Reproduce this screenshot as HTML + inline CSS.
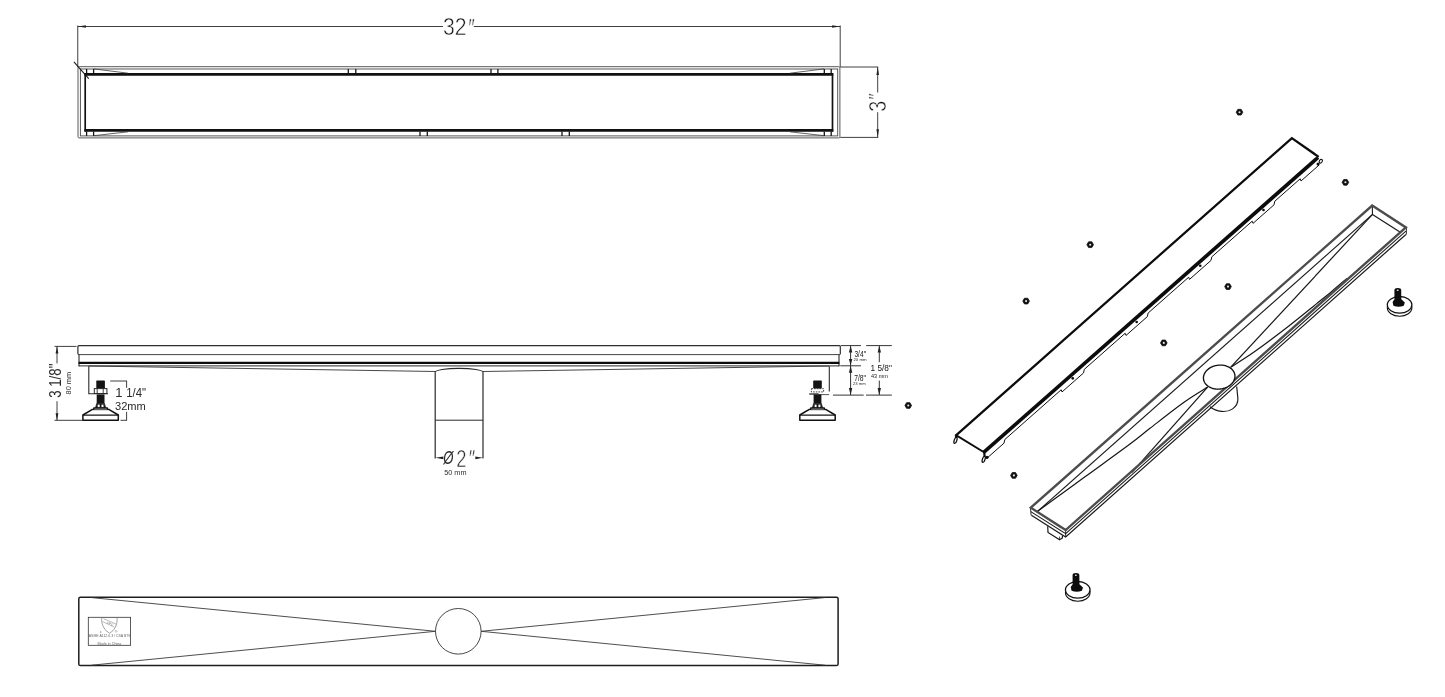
<!DOCTYPE html>
<html><head><meta charset="utf-8"><title>Linear shower drain drawing</title>
<style>
html,body{margin:0;padding:0;background:#fff;}
body{width:1445px;height:697px;overflow:hidden;font-family:"Liberation Sans",sans-serif;}
svg{display:block;font-family:"Liberation Sans",sans-serif;}
</style></head><body>
<svg width="1445" height="697" viewBox="0 0 1445 697" stroke-linecap="butt">
<rect x="0" y="0" width="1445" height="697" fill="#ffffff"/>
<g opacity="0.999">
<line x1="77.75" y1="25.50" x2="77.75" y2="67.00" stroke="#2a2a2a" stroke-width="0.9" />
<line x1="840.20" y1="25.50" x2="840.20" y2="67.00" stroke="#2a2a2a" stroke-width="0.9" />
<line x1="77.75" y1="26.50" x2="443.00" y2="26.50" stroke="#2a2a2a" stroke-width="0.9" />
<line x1="473.80" y1="26.50" x2="840.20" y2="26.50" stroke="#2a2a2a" stroke-width="0.9" />
<polygon points="77.90,26.50 85.90,25.20 85.90,27.80" fill="#222"/>
<polygon points="840.10,26.50 832.10,27.80 832.10,25.20" fill="#222"/>
<text x="443.00" y="35.20" font-size="23" text-anchor="start" fill="#1c1c1c" stroke="#fff" stroke-width="0.46" textLength="23.6" lengthAdjust="spacingAndGlyphs" >32</text>
<text x="467.60" y="36.60" font-size="26" text-anchor="start" fill="#1c1c1c" stroke="#fff" stroke-width="0.52" textLength="6.4" lengthAdjust="spacingAndGlyphs" font-style="italic">″</text>
<rect x="78.0" y="66.7" width="761.90" height="71.20" rx="1.2" fill="none" stroke="#4e4e4e" stroke-width="0.95"/>
<rect x="80.4" y="69.0" width="757.30" height="66.90" fill="none" stroke="#4e4e4e" stroke-width="0.95"/>
<line x1="84.40" y1="74.40" x2="833.30" y2="74.40" stroke="#111" stroke-width="2.6" />
<line x1="84.40" y1="130.40" x2="833.30" y2="130.40" stroke="#111" stroke-width="2.6" />
<line x1="85.20" y1="73.20" x2="85.20" y2="131.60" stroke="#111" stroke-width="1.7" />
<line x1="832.50" y1="73.20" x2="832.50" y2="131.60" stroke="#111" stroke-width="1.7" />
<line x1="86.60" y1="68.90" x2="86.60" y2="73.40" stroke="#151515" stroke-width="1.3" />
<line x1="93.60" y1="68.90" x2="93.60" y2="73.40" stroke="#151515" stroke-width="1.3" />
<line x1="348.30" y1="68.90" x2="348.30" y2="73.40" stroke="#151515" stroke-width="1.3" />
<line x1="355.80" y1="68.90" x2="355.80" y2="73.40" stroke="#151515" stroke-width="1.3" />
<line x1="491.00" y1="68.90" x2="491.00" y2="73.40" stroke="#151515" stroke-width="1.3" />
<line x1="497.90" y1="68.90" x2="497.90" y2="73.40" stroke="#151515" stroke-width="1.3" />
<line x1="824.30" y1="68.90" x2="824.30" y2="73.40" stroke="#151515" stroke-width="1.3" />
<line x1="831.20" y1="68.90" x2="831.20" y2="73.40" stroke="#151515" stroke-width="1.3" />
<line x1="86.60" y1="131.40" x2="86.60" y2="135.90" stroke="#151515" stroke-width="1.3" />
<line x1="93.60" y1="131.40" x2="93.60" y2="135.90" stroke="#151515" stroke-width="1.3" />
<line x1="420.00" y1="131.40" x2="420.00" y2="135.90" stroke="#151515" stroke-width="1.3" />
<line x1="427.30" y1="131.40" x2="427.30" y2="135.90" stroke="#151515" stroke-width="1.3" />
<line x1="562.00" y1="131.40" x2="562.00" y2="135.90" stroke="#151515" stroke-width="1.3" />
<line x1="569.30" y1="131.40" x2="569.30" y2="135.90" stroke="#151515" stroke-width="1.3" />
<line x1="824.30" y1="131.40" x2="824.30" y2="135.90" stroke="#151515" stroke-width="1.3" />
<line x1="831.20" y1="131.40" x2="831.20" y2="135.90" stroke="#151515" stroke-width="1.3" />
<line x1="93.90" y1="68.90" x2="128.00" y2="73.20" stroke="#3a3a3a" stroke-width="0.8" />
<line x1="93.90" y1="135.70" x2="128.00" y2="131.80" stroke="#3a3a3a" stroke-width="0.8" />
<line x1="824.00" y1="68.90" x2="790.00" y2="73.20" stroke="#3a3a3a" stroke-width="0.8" />
<line x1="824.00" y1="135.70" x2="790.00" y2="131.80" stroke="#3a3a3a" stroke-width="0.8" />
<line x1="73.90" y1="61.80" x2="88.70" y2="78.60" stroke="#1a1a1a" stroke-width="1.05" />
<line x1="840.20" y1="67.00" x2="878.20" y2="67.00" stroke="#2a2a2a" stroke-width="0.9" />
<line x1="840.20" y1="137.40" x2="878.20" y2="137.40" stroke="#2a2a2a" stroke-width="0.9" />
<line x1="877.70" y1="67.00" x2="877.70" y2="92.50" stroke="#2a2a2a" stroke-width="0.9" />
<line x1="877.70" y1="112.20" x2="877.70" y2="137.40" stroke="#2a2a2a" stroke-width="0.9" />
<polygon points="877.70,67.10 879.00,75.10 876.40,75.10" fill="#222"/>
<polygon points="877.70,137.30 876.40,129.30 879.00,129.30" fill="#222"/>
<text x="885.80" y="111.80" font-size="23" text-anchor="start" fill="#1c1c1c" stroke="#fff" stroke-width="0.46" transform="rotate(-90 885.80 111.80)" textLength="11" lengthAdjust="spacingAndGlyphs" >3</text>
<text x="881.90" y="100.80" font-size="19" text-anchor="start" fill="#1c1c1c" stroke="#fff" stroke-width="0.38" transform="rotate(-90 881.90 100.80)" font-style="italic">″</text>
<path d="M840.3,354.3 L840.3,346.6 Q840.3,345.6 839.3,345.6 L78.9,345.6 Q77.9,345.6 77.9,346.6 L77.9,354.3" stroke="#2e2e2e" stroke-width="1.2" fill="none" />
<line x1="77.90" y1="354.60" x2="840.30" y2="354.60" stroke="#444" stroke-width="1.0" />
<line x1="79.00" y1="354.60" x2="79.00" y2="366.30" stroke="#2a2a2a" stroke-width="1.1" />
<line x1="839.00" y1="354.60" x2="839.00" y2="366.30" stroke="#2a2a2a" stroke-width="1.1" />
<line x1="78.60" y1="362.80" x2="839.40" y2="362.80" stroke="#0c0c0c" stroke-width="2.2" />
<line x1="78.60" y1="365.90" x2="839.40" y2="365.90" stroke="#2a2a2a" stroke-width="1.0" />
<line x1="88.50" y1="366.00" x2="435.20" y2="371.50" stroke="#333" stroke-width="0.9" />
<line x1="829.00" y1="366.00" x2="483.00" y2="371.50" stroke="#333" stroke-width="0.9" />
<path d="M435.2,458.4 L435.2,372.2 A23.9,3.8 0 0 1 483.0,372.2 L483.0,458.4" stroke="#2a2a2a" stroke-width="1.2" fill="none" />
<line x1="435.20" y1="420.20" x2="483.00" y2="420.20" stroke="#2a2a2a" stroke-width="1.0" />
<polygon points="435.20,457.80 443.40,456.45 443.40,459.15" fill="#222"/>
<polygon points="482.90,457.80 475.30,459.15 475.30,456.45" fill="#222"/>
<text x="443.20" y="464.20" font-size="17.5" text-anchor="start" fill="#2a2a2a" textLength="10.2" lengthAdjust="spacingAndGlyphs" font-style="italic">Ø</text>
<text x="456.20" y="466.50" font-size="24" text-anchor="start" fill="#2a2a2a" stroke="#fff" stroke-width="0.48" textLength="10.2" lengthAdjust="spacingAndGlyphs" >2</text>
<text x="468.00" y="466.60" font-size="24" text-anchor="start" fill="#2a2a2a" stroke="#fff" stroke-width="0.48" textLength="6.4" lengthAdjust="spacingAndGlyphs" font-style="italic">″</text>
<text x="455.35" y="474.60" font-size="7.2" text-anchor="middle" fill="#2a2a2a" textLength="22.3" lengthAdjust="spacingAndGlyphs" >50 mm</text>
<path d="M88.80,366.3 L88.80,393.8 L108.00,393.8" stroke="#2a2a2a" stroke-width="1.1" fill="none" />
<rect x="96.30" y="380.4" width="8.6" height="8.4" rx="0.8" fill="#141414"/>
<rect x="96.70" y="394.4" width="7.8" height="9.3" fill="#141414"/>
<rect x="94.30" y="388.6" width="12.6" height="4.9" fill="#fff" stroke="#2a2a2a" stroke-width="1.0"/>
<line x1="97.20" y1="388.60" x2="97.20" y2="393.50" stroke="#2a2a2a" stroke-width="0.9" />
<line x1="103.20" y1="388.60" x2="103.20" y2="393.50" stroke="#2a2a2a" stroke-width="0.9" />
<path d="M96.70,403.6 L95.60,407.8 L105.60,407.8 L104.50,403.6 Z" stroke="#2a2a2a" stroke-width="0.9" fill="#141414" />
<rect x="97.70" y="404.6" width="2.0" height="2.8" fill="#fff"/>
<rect x="101.50" y="404.6" width="2.0" height="2.8" fill="#fff"/>
<path d="M93.90,407.9 L107.30,407.9 L107.50,409.3 L109.20,409.6 L118.30,415.0 L118.30,420.3 L82.90,420.3 L82.90,415.0 L92.00,409.6 L93.70,409.3 Z" stroke="#111" stroke-width="1.5" fill="#fff" stroke-linejoin="round"/>
<line x1="82.90" y1="415.20" x2="118.30" y2="415.20" stroke="#151515" stroke-width="1.2" />
<line x1="93.40" y1="409.70" x2="107.80" y2="409.70" stroke="#2a2a2a" stroke-width="0.9" />
<line x1="829.30" y1="366.30" x2="829.30" y2="391.40" stroke="#2a2a2a" stroke-width="1.1" />
<line x1="809.20" y1="394.00" x2="818.70" y2="394.00" stroke="#151515" stroke-width="1.2" />
<line x1="818.70" y1="394.60" x2="829.10" y2="394.60" stroke="#444" stroke-width="0.9" />
<rect x="813.20" y="380.4" width="8.6" height="8.4" rx="0.8" fill="#141414"/>
<rect x="813.60" y="394.4" width="7.8" height="9.3" fill="#141414"/>
<rect x="811.40" y="388.7" width="12.2" height="3.2" fill="#fff" stroke="#2a2a2a" stroke-width="0.9" stroke-dasharray="1.6 1.1"/>
<path d="M813.60,403.6 L812.50,407.8 L822.50,407.8 L821.40,403.6 Z" stroke="#2a2a2a" stroke-width="0.9" fill="#141414" />
<rect x="814.60" y="404.6" width="2.0" height="2.8" fill="#fff"/>
<rect x="818.40" y="404.6" width="2.0" height="2.8" fill="#fff"/>
<path d="M810.80,407.9 L824.20,407.9 L824.40,409.3 L826.10,409.6 L835.20,415.0 L835.20,420.3 L799.80,420.3 L799.80,415.0 L808.90,409.6 L810.60,409.3 Z" stroke="#111" stroke-width="1.5" fill="#fff" stroke-linejoin="round"/>
<line x1="799.80" y1="415.20" x2="835.20" y2="415.20" stroke="#151515" stroke-width="1.2" />
<line x1="810.30" y1="409.70" x2="824.70" y2="409.70" stroke="#2a2a2a" stroke-width="0.9" />
<line x1="54.50" y1="346.40" x2="76.50" y2="346.40" stroke="#2a2a2a" stroke-width="0.9" />
<line x1="54.50" y1="420.30" x2="83.00" y2="420.30" stroke="#2a2a2a" stroke-width="0.9" />
<line x1="57.00" y1="346.40" x2="57.00" y2="363.40" stroke="#2a2a2a" stroke-width="0.9" />
<line x1="57.00" y1="401.20" x2="57.00" y2="420.30" stroke="#2a2a2a" stroke-width="0.9" />
<polygon points="57.00,346.50 58.40,353.50 55.60,353.50" fill="#222"/>
<polygon points="57.00,420.20 55.60,413.20 58.40,413.20" fill="#222"/>
<text x="61.20" y="397.80" font-size="17.2" text-anchor="start" fill="#2a2a2a" transform="rotate(-90 61.20 397.80)" textLength="34.2" lengthAdjust="spacingAndGlyphs" >3 1/8"</text>
<text x="70.70" y="394.40" font-size="7" text-anchor="start" fill="#333" transform="rotate(-90 70.70 394.40)" textLength="22.5" lengthAdjust="spacingAndGlyphs" >80 mm</text>
<line x1="110.20" y1="381.00" x2="127.00" y2="381.00" stroke="#2a2a2a" stroke-width="0.9" />
<line x1="126.60" y1="381.00" x2="126.60" y2="387.80" stroke="#2a2a2a" stroke-width="0.9" />
<line x1="126.60" y1="411.80" x2="126.60" y2="420.30" stroke="#2a2a2a" stroke-width="0.9" />
<line x1="120.50" y1="420.30" x2="127.00" y2="420.30" stroke="#2a2a2a" stroke-width="0.9" />
<text x="115.20" y="396.50" font-size="13" text-anchor="start" fill="#2a2a2a" >1</text>
<text x="126.20" y="396.50" font-size="12.3" text-anchor="start" fill="#2a2a2a" textLength="19.8" lengthAdjust="spacingAndGlyphs" >1/4"</text>
<text x="115.00" y="409.80" font-size="11" text-anchor="start" fill="#2a2a2a" textLength="30.8" lengthAdjust="spacingAndGlyphs" >32mm</text>
<line x1="840.80" y1="345.60" x2="861.00" y2="345.60" stroke="#2a2a2a" stroke-width="0.95" />
<line x1="866.20" y1="345.60" x2="891.80" y2="345.60" stroke="#2a2a2a" stroke-width="0.95" />
<line x1="840.30" y1="365.80" x2="861.00" y2="365.80" stroke="#2a2a2a" stroke-width="0.95" />
<line x1="833.00" y1="395.10" x2="863.70" y2="395.10" stroke="#2a2a2a" stroke-width="0.95" />
<line x1="866.00" y1="395.10" x2="891.80" y2="395.10" stroke="#2a2a2a" stroke-width="0.95" />
<line x1="850.60" y1="345.70" x2="850.60" y2="395.00" stroke="#2a2a2a" stroke-width="0.95" />
<polygon points="850.60,345.80 852.30,352.60 848.90,352.60" fill="#222"/>
<polygon points="850.60,365.70 848.90,358.90 852.30,358.90" fill="#222"/>
<polygon points="850.60,365.90 852.30,372.70 848.90,372.70" fill="#222"/>
<polygon points="850.60,394.90 848.90,388.10 852.30,388.10" fill="#222"/>
<line x1="879.30" y1="345.70" x2="879.30" y2="362.20" stroke="#2a2a2a" stroke-width="0.95" />
<line x1="879.30" y1="380.60" x2="879.30" y2="395.00" stroke="#2a2a2a" stroke-width="0.95" />
<polygon points="879.30,345.80 881.00,352.60 877.60,352.60" fill="#222"/>
<polygon points="879.30,394.90 877.60,388.10 881.00,388.10" fill="#222"/>
<text x="854.40" y="356.70" font-size="8.4" text-anchor="start" fill="#151515" textLength="11.6" lengthAdjust="spacingAndGlyphs" >3/4"</text>
<text x="853.40" y="361.30" font-size="4.0" text-anchor="start" fill="#2a2a2a" textLength="13.2" lengthAdjust="spacingAndGlyphs" >20 mm</text>
<text x="854.20" y="380.80" font-size="8.4" text-anchor="start" fill="#151515" textLength="11.8" lengthAdjust="spacingAndGlyphs" >7/8"</text>
<text x="853.00" y="385.40" font-size="4.0" text-anchor="start" fill="#2a2a2a" textLength="12.8" lengthAdjust="spacingAndGlyphs" >23 mm</text>
<text x="870.60" y="371.10" font-size="9.5" text-anchor="start" fill="#151515" textLength="21.3" lengthAdjust="spacingAndGlyphs" >1 5/8"</text>
<text x="871.00" y="377.70" font-size="5.4" text-anchor="start" fill="#222" textLength="16.9" lengthAdjust="spacingAndGlyphs" >43 mm</text>
<rect x="78.8" y="597.2" width="759.3" height="68.4" rx="1.6" fill="none" stroke="#1e1e1e" stroke-width="1.5"/>
<circle cx="458.3" cy="631.3" r="22.8" fill="none" stroke="#333" stroke-width="0.9"/>
<line x1="91.50" y1="597.60" x2="435.50" y2="631.30" stroke="#3a3a3a" stroke-width="0.9" />
<line x1="91.50" y1="665.20" x2="435.50" y2="631.30" stroke="#3a3a3a" stroke-width="0.9" />
<line x1="825.00" y1="597.60" x2="481.10" y2="631.30" stroke="#3a3a3a" stroke-width="0.9" />
<line x1="825.00" y1="665.20" x2="481.10" y2="631.30" stroke="#3a3a3a" stroke-width="0.9" />
<rect x="88.3" y="617.3" width="42.3" height="28.0" fill="none" stroke="#333" stroke-width="0.8"/>
<path d="M101.6,618.0 Q101.2,628.5 109.6,633.3 Q117.6,628.5 117.2,618.0" stroke="#666" stroke-width="0.6" fill="none" />
<path d="M103.4,618.6 L116.2,624.2 M102.6,621.6 L114.6,627.2" stroke="#777" stroke-width="0.5" fill="none" />
<text x="109.60" y="624.80" font-size="3.2" text-anchor="middle" fill="#888" transform="rotate(24 109.60 624.80)" >UPC</text>
<text x="100.80" y="633.20" font-size="4.0" text-anchor="middle" fill="#666" >c</text>
<text x="116.10" y="633.20" font-size="3.6" text-anchor="middle" fill="#666" >®</text>
<text x="109.45" y="637.30" font-size="3.0" text-anchor="middle" fill="#666" textLength="41.4" lengthAdjust="spacingAndGlyphs" >ASME A112.6.3 / CSA B79</text>
<text x="109.45" y="644.60" font-size="3.0" text-anchor="middle" fill="#666" textLength="24.0" lengthAdjust="spacingAndGlyphs" >Made in China</text>
<path d="M1319.00,165.10 L1301.00,180.99 L1300.20,178.79 L1274.80,201.21 L1274.00,204.82 L1253.00,223.36 L1252.20,221.16 L1211.80,256.82 L1211.00,260.43 L1189.50,279.41 L1188.70,277.21 L1148.10,313.05 L1147.30,316.66 L1126.00,335.46 L1125.20,333.26 L1084.30,369.37 L1083.50,372.97 L1062.00,391.95 L1061.20,389.76 L1004.80,439.54 L1004.00,443.15 L986.50,458.59" stroke="#111" stroke-width="1.0" fill="none" />
<circle cx="1263.50" cy="209.99" r="1.3" fill="#0c0c0c"/>
<circle cx="1200.25" cy="265.82" r="1.3" fill="#0c0c0c"/>
<circle cx="1136.65" cy="321.96" r="1.3" fill="#0c0c0c"/>
<circle cx="1072.75" cy="378.36" r="1.3" fill="#0c0c0c"/>
<circle cx="1318.1" cy="164.1" r="1.6" fill="#0c0c0c"/>
<circle cx="987.0" cy="457.3" r="1.6" fill="#0c0c0c"/>
<path d="M956.00,435.40 L1291.85,138.10 L1318.70,156.90" stroke="#0c0c0c" stroke-width="2.3" fill="none" stroke-linejoin="miter"/>
<line x1="955.60" y1="434.90" x2="984.00" y2="452.30" stroke="#0c0c0c" stroke-width="1.9" />
<line x1="1318.00" y1="157.50" x2="983.40" y2="452.60" stroke="#0c0c0c" stroke-width="3.6" />
<line x1="955.80" y1="434.60" x2="956.30" y2="438.20" stroke="#0c0c0c" stroke-width="2.2" />
<line x1="984.20" y1="452.00" x2="984.60" y2="456.60" stroke="#0c0c0c" stroke-width="2.2" />
<ellipse cx="955.50" cy="440.40" rx="1.3" ry="3.2" fill="#fff" stroke="#0c0c0c" stroke-width="1.25" transform="rotate(18 955.50 440.40)"/>
<ellipse cx="983.70" cy="459.40" rx="1.3" ry="3.2" fill="#fff" stroke="#0c0c0c" stroke-width="1.25" transform="rotate(18 983.70 459.40)"/>
<ellipse cx="1320.8" cy="161.2" rx="1.4" ry="2.0" fill="#fff" stroke="#0c0c0c" stroke-width="1.1" transform="rotate(35 1320.8 161.2)"/>
<polygon points="1242.80,112.20 1241.15,115.06 1237.85,115.06 1236.20,112.20 1237.85,109.34 1241.15,109.34" fill="#111" stroke="#111" stroke-width="0.8" stroke-linejoin="round"/>
<circle cx="1239.50" cy="112.20" r="1.05" fill="#e8e8e8"/>
<polygon points="1348.70,182.30 1347.05,185.16 1343.75,185.16 1342.10,182.30 1343.75,179.44 1347.05,179.44" fill="#111" stroke="#111" stroke-width="0.8" stroke-linejoin="round"/>
<circle cx="1345.40" cy="182.30" r="1.05" fill="#e8e8e8"/>
<polygon points="1093.50,244.70 1091.85,247.56 1088.55,247.56 1086.90,244.70 1088.55,241.84 1091.85,241.84" fill="#111" stroke="#111" stroke-width="0.8" stroke-linejoin="round"/>
<circle cx="1090.20" cy="244.70" r="1.05" fill="#e8e8e8"/>
<polygon points="1231.30,286.60 1229.65,289.46 1226.35,289.46 1224.70,286.60 1226.35,283.74 1229.65,283.74" fill="#111" stroke="#111" stroke-width="0.8" stroke-linejoin="round"/>
<circle cx="1228.00" cy="286.60" r="1.05" fill="#e8e8e8"/>
<polygon points="1167.10,342.90 1165.45,345.76 1162.15,345.76 1160.50,342.90 1162.15,340.04 1165.45,340.04" fill="#111" stroke="#111" stroke-width="0.8" stroke-linejoin="round"/>
<circle cx="1163.80" cy="342.90" r="1.05" fill="#e8e8e8"/>
<polygon points="1017.20,475.40 1015.55,478.26 1012.25,478.26 1010.60,475.40 1012.25,472.54 1015.55,472.54" fill="#111" stroke="#111" stroke-width="0.8" stroke-linejoin="round"/>
<circle cx="1013.90" cy="475.40" r="1.05" fill="#e8e8e8"/>
<polygon points="1029.40,301.10 1027.75,303.96 1024.45,303.96 1022.80,301.10 1024.45,298.24 1027.75,298.24" fill="#111" stroke="#111" stroke-width="0.8" stroke-linejoin="round"/>
<circle cx="1026.10" cy="301.10" r="1.05" fill="#e8e8e8"/>
<polygon points="911.55,405.50 909.90,408.36 906.60,408.36 904.95,405.50 906.60,402.64 909.90,402.64" fill="#111" stroke="#111" stroke-width="0.8" stroke-linejoin="round"/>
<circle cx="908.25" cy="405.50" r="1.05" fill="#e8e8e8"/>
<path d="M1236.7,386.5 L1237.9,398.6 C1238.2,408.0 1229.0,412.3 1221.5,411.4 C1217.0,410.9 1213.5,409.6 1210.0,406.8" stroke="#1a1a1a" stroke-width="1.15" fill="none" />
<path d="M1405.90,231.10 L1065.65,533.65 L1030.80,511.60" stroke="#1a1a1a" stroke-width="1.05" fill="none" />
<path d="M1405.90,234.50 L1065.65,537.05 L1031.40,515.30" stroke="#1a1a1a" stroke-width="1.15" fill="none" />
<line x1="1406.40" y1="227.50" x2="1406.40" y2="234.50" stroke="#1a1a1a" stroke-width="0.9" />
<line x1="1065.65" y1="530.05" x2="1065.65" y2="537.05" stroke="#1a1a1a" stroke-width="0.9" />
<line x1="1030.50" y1="507.70" x2="1031.10" y2="515.30" stroke="#1a1a1a" stroke-width="0.9" />
<path d="M1047.70,526.20 L1048.00,532.40 L1059.60,539.70 L1062.40,537.90 L1062.40,535.60" stroke="#151515" stroke-width="1.15" fill="none" />
<line x1="1059.60" y1="539.70" x2="1059.50" y2="536.60" stroke="#1a1a1a" stroke-width="0.8" />
<line x1="1372.50" y1="214.40" x2="1037.30" y2="511.60" stroke="#1a1a1a" stroke-width="1.15" />
<line x1="1372.50" y1="214.40" x2="1400.30" y2="232.20" stroke="#1a1a1a" stroke-width="1.2" />
<line x1="1372.30" y1="206.00" x2="1372.50" y2="214.40" stroke="#1a1a1a" stroke-width="1.1" />
<line x1="1372.50" y1="214.40" x2="1230.80" y2="367.10" stroke="#151515" stroke-width="1.2" />
<path d="M1230.80,367.10 C1234.73,364.55 1244.72,358.65 1254.40,351.80 C1264.08,344.95 1278.57,333.98 1288.90,326.00 C1299.23,318.02 1309.22,309.70 1316.40,303.90 C1323.58,298.10 1326.90,295.45 1332.00,291.20 C1337.10,286.95 1344.50,280.53 1347.00,278.40" stroke="#151515" stroke-width="1.2" fill="none" />
<path d="M1207.60,387.10 C1203.67,389.63 1193.60,395.43 1184.00,402.30 C1174.40,409.17 1159.00,421.35 1150.00,428.30 C1141.00,435.25 1140.83,435.92 1130.00,444.00 C1119.17,452.08 1100.45,465.53 1085.00,476.80 C1069.55,488.07 1045.25,505.80 1037.30,511.60" stroke="#151515" stroke-width="1.2" fill="none" />
<line x1="1207.60" y1="387.10" x2="1132.00" y2="472.40" stroke="#151515" stroke-width="1.2" />
<path d="M1030.80,507.70 L1372.20,205.50 L1405.90,227.50 L1065.65,530.05 Z" stroke="#4c4c4c" stroke-width="2.4" fill="none" stroke-linejoin="miter"/>
<path d="M1229.85,367.66 L1230.82,368.35 L1231.71,369.10 L1232.49,369.91 L1233.18,370.78 L1233.76,371.69 L1234.23,372.65 L1234.59,373.64 L1234.83,374.66 L1234.95,375.69 L1234.95,376.74 L1234.83,377.79 L1234.59,378.83 L1234.23,379.86 L1233.76,380.87 L1233.18,381.85 L1232.49,382.80 L1231.70,383.70 L1230.82,384.55 L1229.85,385.34 L1228.79,386.08 L1227.67,386.74 L1226.48,387.33 L1225.23,387.84 L1223.94,388.27 L1222.61,388.62 L1221.26,388.87 L1219.89,389.04 L1218.51,389.12 L1217.14,389.11 L1215.79,389.00 L1214.46,388.80 L1213.17,388.52 L1211.92,388.15 L1210.73,387.69 L1209.60,387.15 L1208.55,386.54 L1207.58,385.85 L1206.69,385.10 L1205.91,384.29 L1205.22,383.42 L1204.64,382.51 L1204.17,381.55 L1203.81,380.56 L1203.57,379.54 L1203.45,378.51 L1203.45,377.46 L1203.57,376.41 L1203.81,375.37 L1204.17,374.34 L1204.64,373.33 L1205.22,372.35 L1205.91,371.40 L1206.70,370.50 L1207.58,369.65 L1208.55,368.86 L1209.61,368.12 L1210.73,367.46 L1211.92,366.87 L1213.17,366.36 L1214.46,365.93 L1215.79,365.58 L1217.14,365.33 L1218.51,365.16 L1219.89,365.08 L1221.26,365.09 L1222.61,365.20 L1223.94,365.40 L1225.23,365.68 L1226.48,366.05 L1227.67,366.51 L1228.80,367.05 Z" stroke="#111" stroke-width="1.35" fill="#fff" />
<ellipse cx="1399.60" cy="307.80" rx="12.3" ry="8.4" fill="#fff" stroke="#111" stroke-width="1.1"/>
<ellipse cx="1399.60" cy="304.80" rx="12.3" ry="8.3" fill="#fff" stroke="#111" stroke-width="1.3"/>
<path d="M1392.60,301.90 L1394.50,299.20 L1394.40,290.20 Q1394.40,287.90 1397.80,287.90 Q1401.20,287.90 1401.20,290.20 L1401.30,299.20 L1404.80,302.40 L1403.80,305.70 Q1398.60,307.80 1393.40,305.70 Z" fill="#0c0c0c"/>
<ellipse cx="1397.70" cy="290.20" rx="1.0" ry="0.7" fill="#e8e8e8"/>
<ellipse cx="1077.75" cy="592.80" rx="12.3" ry="8.4" fill="#fff" stroke="#111" stroke-width="1.1"/>
<ellipse cx="1077.75" cy="589.80" rx="12.3" ry="8.3" fill="#fff" stroke="#111" stroke-width="1.3"/>
<path d="M1070.75,586.90 L1072.65,584.20 L1072.55,575.20 Q1072.55,572.90 1075.95,572.90 Q1079.35,572.90 1079.35,575.20 L1079.45,584.20 L1082.95,587.40 L1081.95,590.70 Q1076.75,592.80 1071.55,590.70 Z" fill="#0c0c0c"/>
<ellipse cx="1075.85" cy="575.20" rx="1.0" ry="0.7" fill="#e8e8e8"/>
</g>
</svg>
</body></html>
